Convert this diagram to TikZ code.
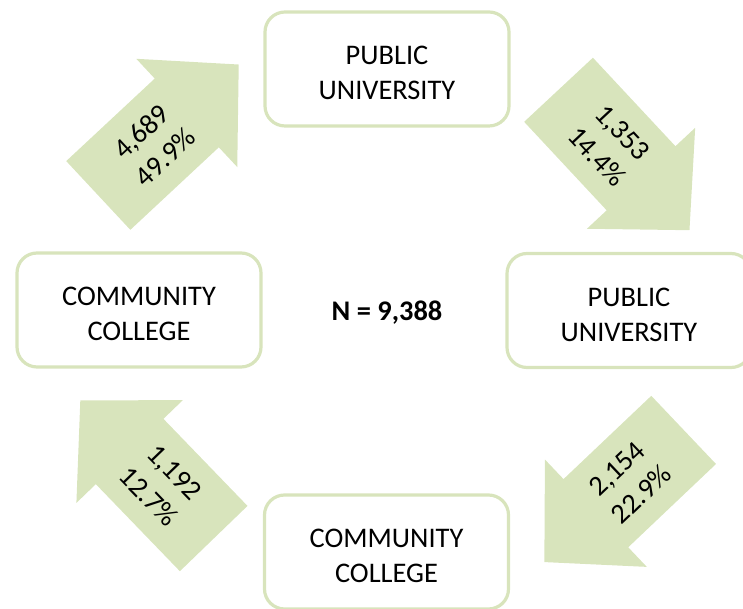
\documentclass[tikz,border=0pt]{standalone}
\usepackage{fontspec}
\setmainfont{Carlito}
\usetikzlibrary{positioning}
\definecolor{sage}{RGB}{216,228,188}

\begin{document}
\begin{tikzpicture}[x=0.5pt,y=0.5pt,
    every node/.style={font=\fontsize{14.2}{17.6}\selectfont, align=center},
    sector/.style={draw=sage, line width=1.6pt, rounded corners=10pt, fill=white,
        minimum width=122pt, minimum height=57pt, text height=31pt}]
        \useasboundingbox (0,0) rectangle (743,609);
        % block arrows: centre / direction / text angle / counts
        \foreach \cx/\cy/\ang/\rot/\txt in {168.5/479/43/43/{4,689\\49.9\%},
                624/449/-47/-47/{1,353\\14.4\%},
                614/113/223.5/43.5/{2,154\\22.9\%},
                147/139.5/134/-46/{1,192\\12.7\%}}
        {
            \begin{scope}[shift={(\cx,\cy)}, rotate=\ang]
                \fill[sage] (-96,-47) -- (25,-47) -- (25,-74) -- (96,0)
                    -- (25,74) -- (25,47) -- (-96,47) -- cycle;
                \node[rotate=\rot] at (-21,0) {\txt};
            \end{scope}
        }

        \node[sector] (pubtop) at (387,540) {PUBLIC\\UNIVERSITY};
        \node[sector] (pubright) at (629,298.5) {PUBLIC\\UNIVERSITY};
        \node[sector] (ccleft) at (139,299) {COMMUNITY\\COLLEGE};
        \node[sector] (ccbottom) at (386.5,57) {COMMUNITY\\COLLEGE};
        \node[font=\fontsize{14.2}{17.6}\selectfont\bfseries] (total) at (387,296) {N = 9,388};
    \end{tikzpicture}
\end{document}
